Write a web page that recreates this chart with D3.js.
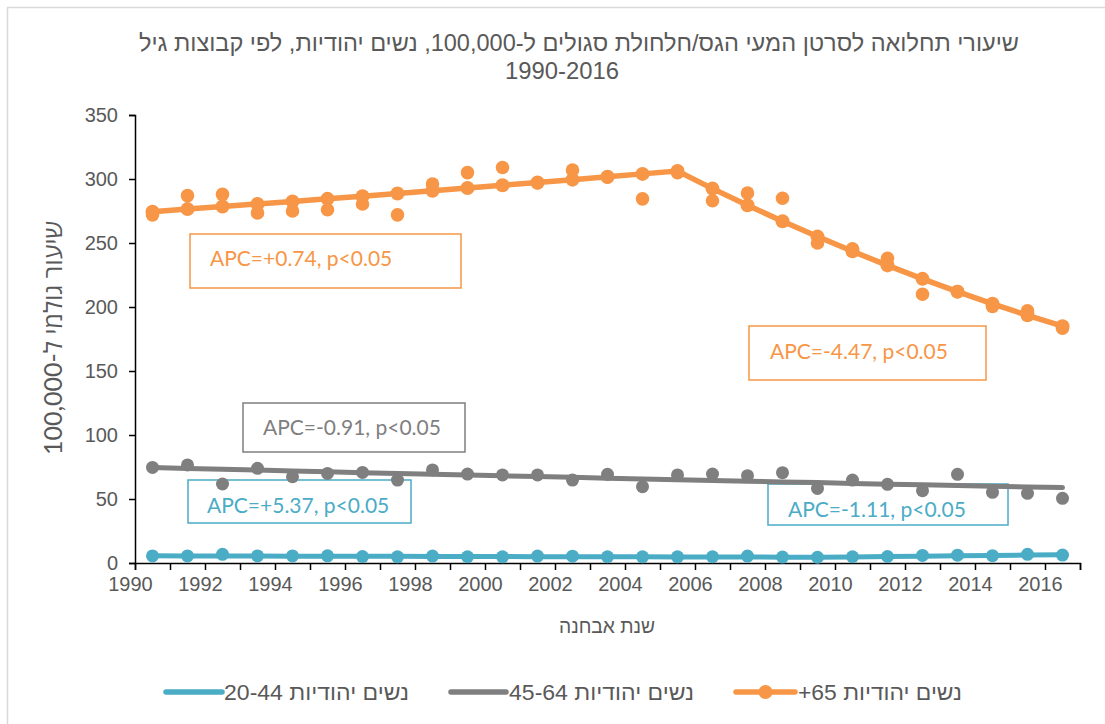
<!DOCTYPE html>
<html><head><meta charset="utf-8">
<script src="https://cdn.jsdelivr.net/npm/d3@7"></script>
<style>body{margin:0;background:#fff;overflow:hidden} svg{display:block}</style>
</head><body><svg id="c" width="1105" height="724"></svg>
<script>
// ---------- data ----------
const years = [1990,1991,1992,1993,1994,1995,1996,1997,1998,1999,2000,2001,2002,2003,2004,2005,2006,2007,2008,2009,2010,2011,2012,2013,2014,2015,2016];
// women 65+ : observed rates and joinpoint fitted rates
const obs65 = [272,287,288,273.5,275,276,280.5,272,296,305,309,297,307,301.5,284.5,305,283,289,285,250,245.5,238,210,212,200.5,197,183.5];
const fit65 = [274.5,276.5,278.5,280.5,282.5,284.5,286.6,288.7,290.8,293,295.1,297.3,299.5,301.7,304,306.2,292.5,279.5,267,255,243.5,232.5,222,212,202.5,193.5,185];
// women 45-64
const obs45 = [74.7,76.6,61.7,74,67.4,70,70.8,64.8,72.7,69.5,68.8,68.8,64.8,69.3,59.6,68.8,69.5,68.2,70.6,58.3,64.8,61.5,56.5,69.3,55.2,54.4,50.5];
const fit45 = [74.6,73.9,73.3,72.6,71.9,71.3,70.6,70.0,69.4,68.7,68.1,67.5,66.9,66.3,65.7,65.1,64.5,63.9,63.3,62.8,62.2,61.6,61.1,60.5,60.0,59.4,58.9];
// women 20-44
const obs20 = [5.5,5.5,6.8,5.5,5.5,5.6,5.0,4.8,5.4,4.9,4.8,5.4,5.3,4.9,4.8,4.8,4.9,5.4,4.6,4.5,4.9,5.1,5.9,6.1,5.7,6.8,6.2];
const fit20 = [5.6,5.54,5.48,5.42,5.36,5.30,5.24,5.18,5.12,5.07,5.01,4.96,4.90,4.85,4.79,4.74,4.69,4.64,4.59,4.54,4.78,5.04,5.31,5.59,5.89,6.21,6.54];
const yTickValues = [0,50,100,150,200,250,300,350];
const xTickLabels = [1990,1992,1994,1996,1998,2000,2002,2004,2006,2008,2010,2012,2014,2016];
const seriesNames = ["נשים יהודיות 65+","נשים יהודיות 45-64","נשים יהודיות 20-44"];
const apcTexts = ["APC=+0.74, p<0.05","APC=-4.47, p<0.05","APC=-0.91, p<0.05","APC=+5.37, p<0.05","APC=-1.11, p<0.05"];
const titleLines = ["שיעורי תחלואה לסרטן המעי הגס/חלחולת סגולים ל-100,000, נשים יהודיות, לפי קבוצות גיל","1990-2016"];
const yTitle = "שיעור גולמי ל-100,000";
const xTitle = "שנת אבחנה";

// ---------- layout / style ----------
const C_OR = "#F79646", C_GR = "#7F7F7F", C_CY = "#4BACC6", TXT = "#595959";
const svg = d3.select("#c");
const x = d3.scaleLinear().domain([1990, 2017]).range([135, 1080]);
const y = d3.scaleLinear().domain([0, 350]).range([563, 115]);
const xc = yr => x(yr + 0.5); // values plotted mid-year

svg.append("rect").attr("x",7.5).attr("y",7.5).attr("width",1200).attr("height",800)
  .attr("fill","#fff").attr("stroke","#D9D9D9").attr("stroke-width",1.5);

// title
const FONT = "'Liberation Sans', Arial, 'DejaVu Sans', sans-serif";
svg.append("text").attr("x",579).attr("y",51).attr("text-anchor","middle").attr("direction","rtl")
  .attr("textLength",880).attr("lengthAdjust","spacingAndGlyphs")
  .style("font-family",FONT).style("font-size","24px").attr("fill",TXT).text(titleLines[0]);
svg.append("text").attr("x",562).attr("y",79).attr("text-anchor","middle")
  .attr("textLength",114).attr("lengthAdjust","spacingAndGlyphs")
  .style("font-family",FONT).style("font-size","24px").attr("fill",TXT).text(titleLines[1]);

// APC boxes (behind series)
const apcLayout = [
  {box:[190,234,271,54], tx:210, ty:266, c:C_OR},
  {box:[749,326,237,54], tx:770, ty:359, c:C_OR},
  {box:[243,403,222,49], tx:263, ty:435, c:C_GR},
  {box:[188,480,223,43], tx:207, ty:513, c:C_CY},
  {box:[768,484,240,41], tx:788, ty:517, c:C_CY}
];
apcLayout.forEach((L,i)=>{
  svg.append("rect").attr("x",L.box[0]).attr("y",L.box[1]).attr("width",L.box[2]).attr("height",L.box[3])
    .attr("fill","none").attr("stroke",L.c).attr("stroke-width",1.5);
  svg.append("text").attr("x",L.tx).attr("y",L.ty).style("font-family","Lato, 'Open Sans', sans-serif")
    .style("font-size","21px").attr("fill",L.c).text(apcTexts[i]);
});

// axes
const xAxis = d3.axisBottom(x).tickValues(d3.range(1990, 2018)).tickSize(7).tickFormat(d => xTickLabels.includes(d) ? d : "");
const gx = svg.append("g").attr("transform",`translate(0,${y(0)})`).call(xAxis);
gx.select(".domain").attr("stroke","#000").attr("stroke-width",1.5);
gx.selectAll(".tick line").attr("stroke","#000").attr("stroke-width",1.5);
gx.selectAll(".tick text").attr("fill",TXT).style("font-family",FONT).style("font-size","20px").attr("dy","0.9em").attr("dx",-5);

const yAxis = d3.axisLeft(y).tickValues(yTickValues).tickSize(6).tickPadding(11);
const gy = svg.append("g").attr("transform",`translate(${x(1990)},0)`).call(yAxis);
gy.select(".domain").attr("stroke","#000").attr("stroke-width",1.5);
gy.selectAll(".tick line").attr("stroke","#000").attr("stroke-width",1.5);
gy.selectAll(".tick text").attr("fill",TXT).style("font-family",FONT).style("font-size","20px");

// axis titles
svg.append("text").attr("transform","translate(62,338) rotate(-90)").attr("text-anchor","middle").attr("direction","rtl")
  .style("font-family","Lato, 'Open Sans', sans-serif").style("font-size","25px").attr("fill",TXT).text(yTitle);
svg.append("text").attr("x",607).attr("y",633).attr("text-anchor","middle").attr("direction","rtl")
  .attr("textLength",96).attr("lengthAdjust","spacingAndGlyphs")
  .style("font-family",FONT).style("font-size","20px").attr("fill",TXT).text(xTitle);

// series
const line = d3.line().x((d,i)=>xc(years[i])).y(d=>y(d));
function dots(vals, color, r){
  svg.append("g").selectAll("circle").data(vals).join("circle")
    .attr("cx",(d,i)=>xc(years[i])).attr("cy",d=>y(d)).attr("r",r).attr("fill",color);
}
// 45-64
svg.append("path").datum(fit45).attr("d",line).attr("fill","none").attr("stroke",C_GR).attr("stroke-width",5).attr("stroke-linecap","round");
dots(obs45, C_GR, 6.5);
// 20-44
svg.append("path").datum(fit20).attr("d",line).attr("fill","none").attr("stroke",C_CY).attr("stroke-width",5).attr("stroke-linecap","round");
dots(obs20, C_CY, 6.5);
// 65+
svg.append("path").datum(fit65).attr("d",line).attr("fill","none").attr("stroke",C_OR).attr("stroke-width",5.5).attr("stroke-linecap","round");
dots(fit65, C_OR, 7);
dots(obs65, C_OR, 6.8);

// legend
const legendLayout = [
  {x0:736, x1:795, tx:962, w:164, c:C_OR, marker:true},
  {x0:451, x1:506, tx:694, w:185, c:C_GR, marker:false},
  {x0:166, x1:222, tx:409, w:185, c:C_CY, marker:false}
];
const LY = 692;
legendLayout.forEach((L,i)=>{
  svg.append("line").attr("x1",L.x0).attr("x2",L.x1).attr("y1",LY).attr("y2",LY)
    .attr("stroke",L.c).attr("stroke-width",5.5).attr("stroke-linecap","round");
  if (L.marker) svg.append("circle").attr("cx",(L.x0+L.x1)/2).attr("cy",LY).attr("r",7).attr("fill",L.c);
  svg.append("text").attr("x",L.tx - L.w/2).attr("y",LY+8).attr("direction","rtl").attr("text-anchor","middle")
    .attr("textLength",L.w).attr("lengthAdjust","spacingAndGlyphs")
    .style("font-family",FONT).style("font-size","22px").attr("fill",TXT).text(seriesNames[i]);
});
</script></body></html>
